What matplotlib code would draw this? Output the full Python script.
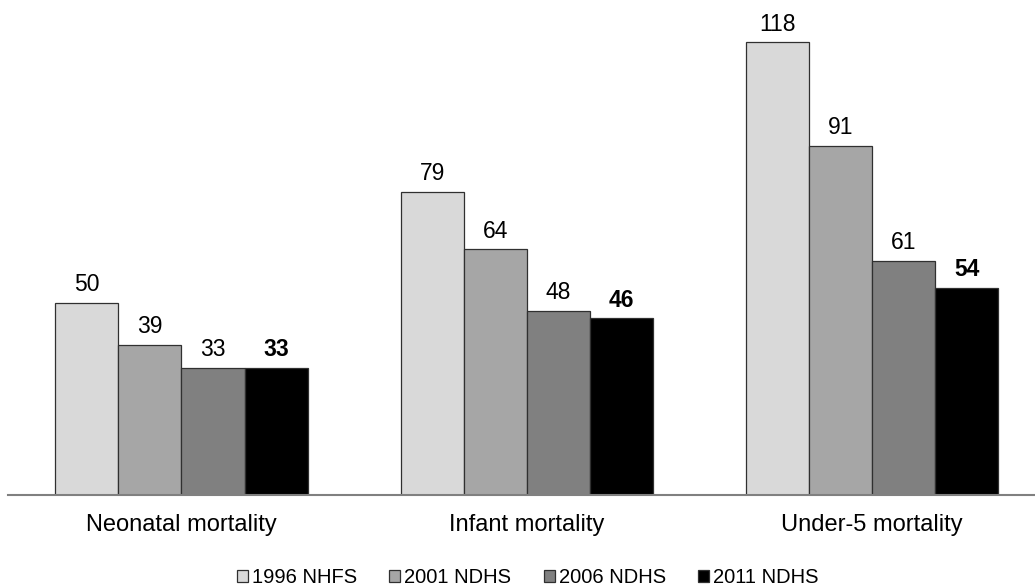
import numpy as np
import matplotlib.pyplot as plt

plt.rcParams['font.family'] = ['Liberation Sans', 'DejaVu Sans']

categories = ["Neonatal mortality", "Infant mortality", "Under-5 mortality"]
surveys = ["1996 NHFS", "2001 NDHS", "2006 NDHS", "2011 NDHS"]
values = {
    "1996 NHFS": [50, 79, 118],
    "2001 NDHS": [39, 64, 91],
    "2006 NDHS": [33, 48, 61],
    "2011 NDHS": [33, 46, 54],
}
colors = ["#d9d9d9", "#a6a6a6", "#808080", "#000000"]

fig = plt.figure(figsize=(10.35, 5.88), dpi=100)
ax = fig.add_axes([8 / 1035, 1 - 494.5 / 588, 1 - 8 / 1035, 494.5 / 588])

x = np.arange(len(categories))
w = 0.1825
for i, s in enumerate(surveys):
    pos = x + (i - 1.5) * w
    ax.bar(pos, values[s], width=w, color=colors[i], edgecolor="#303030",
           linewidth=0.9, label=s)
    for p, v in zip(pos, values[s]):
        ax.text(p, v + 1.7, str(v), ha="center", va="bottom", fontsize=16.5,
                fontweight="bold" if i == 3 else "normal")

ax.set_xlim(-0.5025, 2.472)
ax.set_ylim(0, 129.0)
ax.set_yticks([])
ax.set_xticks(x)
ax.set_xticklabels(categories, fontsize=17)
ax.tick_params(axis="x", length=0, pad=14)
for side in ["left", "right", "top"]:
    ax.spines[side].set_visible(False)
ax.spines["bottom"].set_color("#808080")
ax.spines["bottom"].set_linewidth(1.5)

fig.legend(loc="center", bbox_to_anchor=(0.51, 0.018), ncol=4, frameon=False,
           fontsize=14.5, handlelength=0.55, handleheight=0.55, handletextpad=0.2,
           columnspacing=1.6)

fig.savefig("out.png", dpi=100)
